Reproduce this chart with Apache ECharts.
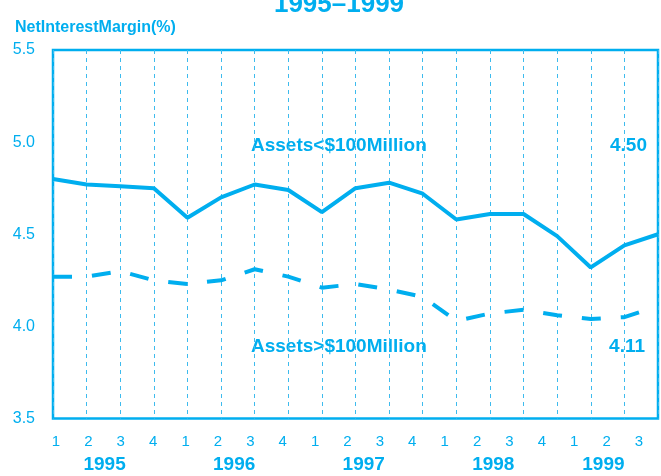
<!DOCTYPE html>
<html>
<head>
<meta charset="utf-8">
<script src="https://cdn.jsdelivr.net/npm/echarts@6/dist/echarts.min.js"></script>
<style>
html, body { margin: 0; padding: 0; background: #fff; }
#main { width: 661px; height: 476px; }
</style>
</head>
<body>
<div id="main"></div>
<script>
// 季度标签和年份
var quarters = ['1','2','3','4','1','2','3','4','1','2','3','4','1','2','3','4','1','2','3'];
var quarterPos = [0,1,2,3,4,5,6,7,8,9,10,11,12,13,14,15,16,17,18];
var years = ['1995','1996','1997','1998','1999'];
var yearPos = [1.5, 5.5, 9.5, 13.5, 16.9];

// 两条线的数值
var smallBanks = [4.80,4.77,4.76,4.75,4.59,4.70,4.77,4.74,4.62,4.75,4.78,4.72,4.58,4.61,4.61,4.49,4.32,4.44,4.50];
var largeBanks = [4.27,4.27,4.30,4.25,4.23,4.25,4.31,4.27,4.21,4.23,4.20,4.16,4.03,4.07,4.09,4.06,4.04,4.05,4.11];

var yTicks = [3.5, 4.0, 4.5, 5.0, 5.5];

var blue = '#00AEEF';
var font = '"Liberation Sans", Arial, sans-serif';

var dom = document.getElementById('main');
var myChart = echarts.init(dom);

// 标签轴的范围，让季度标签稍微往左收
var labMin = -0.0926, labMax = 18.586;

var option = {
    animation: false,
    textStyle: { fontFamily: font },
    title: [
        {
            text: '1995\u20131999',
            left: 334,
            top: -13,
            textAlign: 'center',
            textStyle: { color: blue, fontSize: 26, fontWeight: 'bold', fontFamily: font }
        },
        {
            text: 'NetInterestMargin(%)',
            left: 10,
            top: 15,
            textStyle: { color: blue, fontSize: 16, fontWeight: 'bold', fontFamily: font }
        }
    ],
    grid: {
        left: 53,
        right: 3,
        top: 50,
        bottom: 57.5,
        show: true,
        borderColor: blue,
        borderWidth: 2.5,
        backgroundColor: 'transparent'
    },
    xAxis: [
        {
            type: 'category',
            boundaryGap: false,
            data: quarters,
            axisLine: { show: false },
            axisTick: { show: false },
            axisLabel: { show: false },
            splitLine: { show: true, lineStyle: { color: '#3dbbee', width: 1, type: [4, 4] } }
        },
        {
            type: 'value',
            position: 'bottom',
            min: labMin,
            max: labMax,
            axisLine: { show: false },
            axisTick: { show: false },
            splitLine: { show: false },
            axisLabel: {
                customValues: quarterPos,
                margin: 16,
                color: blue,
                fontSize: 15,
                fontFamily: font,
                formatter: function (v) { return quarters[Math.round(v)]; }
            }
        },
        {
            type: 'value',
            position: 'bottom',
            min: labMin,
            max: labMax,
            axisLine: { show: false },
            axisTick: { show: false },
            splitLine: { show: false },
            axisLabel: {
                customValues: yearPos,
                margin: 37,
                color: blue,
                fontSize: 19,
                fontWeight: 'bold',
                fontFamily: font,
                formatter: function (v) {
                    for (var i = 0; i < yearPos.length; i++) {
                        if (Math.abs(yearPos[i] - v) < 0.01) return years[i];
                    }
                    return '';
                }
            }
        }
    ],
    yAxis: {
        type: 'value',
        min: yTicks[0],
        max: yTicks[yTicks.length - 1],
        interval: 0.5,
        axisLine: { show: false },
        axisTick: { show: false },
        splitLine: { show: false },
        axisLabel: {
            margin: 18,
            color: blue,
            fontSize: 16,
            fontFamily: font,
            formatter: function (v) { return v.toFixed(1); }
        }
    },
    series: [
        {
            name: 'Assets<$100Million',
            type: 'line',
            xAxisIndex: 0,
            data: smallBanks,
            symbol: 'none',
            lineStyle: { color: blue, width: 4 }
        },
        {
            name: 'Assets>$100Million',
            type: 'line',
            xAxisIndex: 0,
            data: largeBanks,
            symbol: 'none',
            lineStyle: { color: blue, width: 4, type: [19, 20] }
        }
    ],
    graphic: [
        {
            type: 'text',
            style: { text: 'Assets<$100Million', x: 251, y: 146, textVerticalAlign: 'middle',
                     fill: blue, font: 'bold 19px ' + font }
        },
        {
            type: 'text',
            style: { text: '4.50', x: 647, y: 146, textAlign: 'right', textVerticalAlign: 'middle',
                     fill: blue, font: 'bold 19px ' + font }
        },
        {
            type: 'text',
            style: { text: 'Assets>$100Million', x: 251, y: 347, textVerticalAlign: 'middle',
                     fill: blue, font: 'bold 19px ' + font }
        },
        {
            type: 'text',
            style: { text: '4.11', x: 645, y: 347, textAlign: 'right', textVerticalAlign: 'middle',
                     fill: blue, font: 'bold 19px ' + font }
        }
    ]
};

myChart.setOption(option);
</script>
</body>
</html>
